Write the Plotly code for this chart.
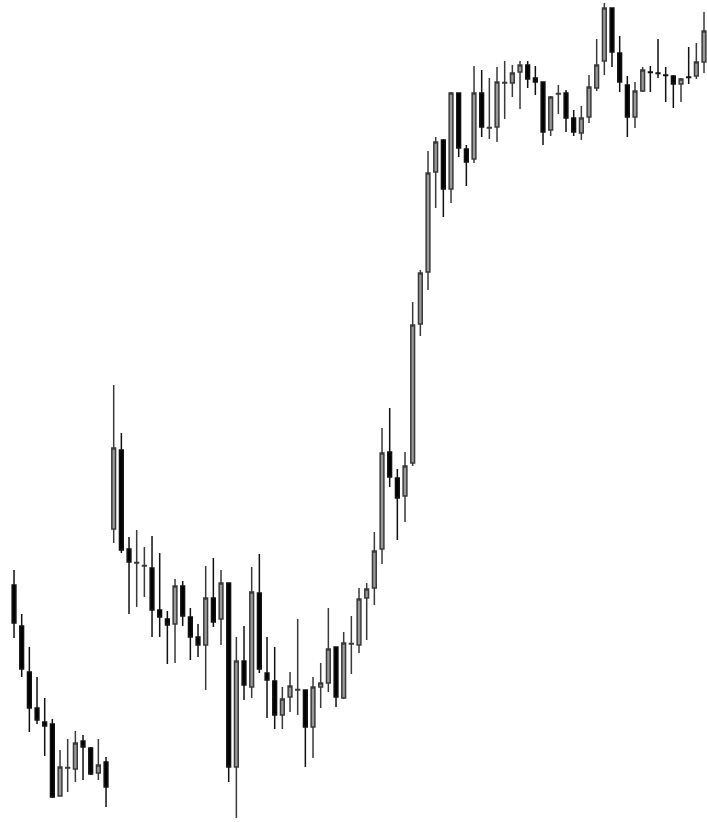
import plotly.graph_objects as go

opens = [26.5, 22.4, 17.8, 14.2, 12.8, 12.6, 5.4, 8.2, 8.1, 10.9, 10.2, 7.7, 8.8,
         32.1, 40.0, 30.1, 28.7, 28.4, 28.2, 24.0, 23.1, 22.6, 26.4, 23.3, 21.3, 20.5, 25.2, 23.1,
         26.7, 8.3, 18.9, 16.3, 25.7, 17.7, 16.9, 13.5, 15.3, 16.0, 16.0, 12.3, 16.3, 16.7, 20.3,
         15.2, 20.6, 20.5, 25.2, 26.2, 30.1, 39.8, 37.2, 35.4, 38.7, 52.6, 57.8, 67.8, 71.0, 66.1,
         75.7, 70.1, 69.1, 75.7, 72.2, 72.3, 76.7, 76.7, 77.8, 78.5, 77.2, 76.8, 72.0, 75.6, 75.7,
         73.2, 71.7, 73.3, 76.2, 78.9, 84.2, 79.7, 76.5, 73.3, 75.9, 77.8, 77.7, 77.5, 77.4, 76.6,
         77.3, 77.4, 78.8]
highs = [28.0, 23.6, 20.3, 17.3, 15.2, 13.1, 10.0, 11.1, 11.9, 11.5, 10.3, 11.1, 9.3,
         46.5, 41.7, 31.3, 32.0, 30.3, 31.4, 29.7, 23.9, 27.1, 26.9, 24.2, 22.6, 28.4, 29.2, 28.0,
         26.7, 21.3, 22.4, 28.3, 29.6, 21.3, 20.3, 16.3, 17.8, 23.1, 16.0, 17.3, 18.7, 24.2, 20.3,
         21.8, 23.4, 26.2, 26.7, 31.8, 42.2, 44.2, 38.1, 39.8, 54.8, 58.0, 69.9, 71.3, 71.1, 75.8,
         75.7, 70.5, 78.4, 78.0, 77.2, 78.3, 78.9, 78.5, 78.9, 78.9, 78.4, 76.8, 75.4, 76.5, 76.0,
         74.0, 74.4, 77.5, 81.1, 84.7, 84.2, 81.4, 77.4, 76.8, 78.3, 78.4, 81.1, 78.3, 77.5, 77.2,
         80.3, 80.7, 83.8]
lows = [21.2, 17.3, 11.8, 12.6, 9.4, 5.2, 5.4, 5.8, 6.8, 7.0, 7.5, 7.0, 4.3,
        30.7, 29.7, 23.6, 24.3, 25.3, 21.3, 21.3, 18.6, 18.7, 22.4, 19.0, 19.3, 16.0, 22.3, 20.5,
        6.8, 3.2, 15.0, 15.2, 17.7, 13.2, 12.1, 12.1, 13.8, 13.5, 8.3, 9.2, 14.2, 15.8, 14.3,
        15.1, 17.6, 19.7, 21.0, 24.5, 28.6, 36.3, 31.0, 32.8, 38.4, 51.4, 56.0, 64.2, 63.3, 64.7,
        69.3, 66.4, 68.7, 71.3, 71.1, 70.8, 73.1, 75.3, 74.1, 76.2, 75.5, 70.5, 71.4, 73.6, 71.8,
        71.4, 71.0, 72.7, 75.9, 77.5, 78.3, 75.8, 71.3, 72.2, 75.8, 75.8, 77.2, 74.8, 74.2, 74.8,
        76.6, 77.1, 77.7]
closes = [22.7, 18.1, 14.2, 13.0, 12.4, 5.3, 8.3, 8.25, 10.7, 10.3, 7.6, 8.5, 6.3,
          40.2, 30.0, 28.8, 28.75, 28.45, 24.0, 23.3, 22.5, 26.4, 23.4, 21.3, 20.5, 25.2, 22.8, 26.7,
          8.3, 18.9, 16.5, 25.8, 18.1, 17.0, 13.5, 15.1, 16.4, 16.05, 12.3, 16.3, 16.7, 20.1, 15.3,
          20.7, 20.65, 25.1, 26.1, 29.9, 39.7, 37.3, 35.2, 38.4, 52.5, 57.7, 67.7, 70.8, 66.1, 75.7,
          70.2, 68.8, 75.7, 72.3, 72.25, 76.8, 76.75, 77.7, 78.5, 77.1, 76.8, 71.8, 75.3, 75.65, 73.2,
          71.8, 73.2, 76.3, 78.5, 84.2, 79.8, 76.8, 73.3, 75.9, 78.0, 77.75, 77.65, 77.45, 76.6, 77.1,
          77.25, 78.8, 81.9]

days = list(range(len(opens)))

fig = go.Figure(go.Candlestick(
    x=days, open=opens, high=highs, low=lows, close=closes,
    increasing=dict(fillcolor="#999999", line=dict(color="#3a3a3a", width=1.5)),
    decreasing=dict(fillcolor="#000000", line=dict(color="#111111", width=1.5)),
    whiskerwidth=0,
    showlegend=False,
    hoverinfo="x+y",
))

fig.update_layout(
    width=707, height=822,
    margin=dict(l=0, r=0, t=0, b=0),
    paper_bgcolor="white", plot_bgcolor="white",
    xaxis=dict(visible=False, range=[-1.83, 90.39], rangeslider=dict(visible=False)),
    yaxis=dict(visible=False, range=[2.8, 85.0]),
)

fig.write_html(
    "out.html",
    config={"displayModeBar": False},
    post_script="document.body.style.margin='0';document.body.style.overflow='hidden';",
)
